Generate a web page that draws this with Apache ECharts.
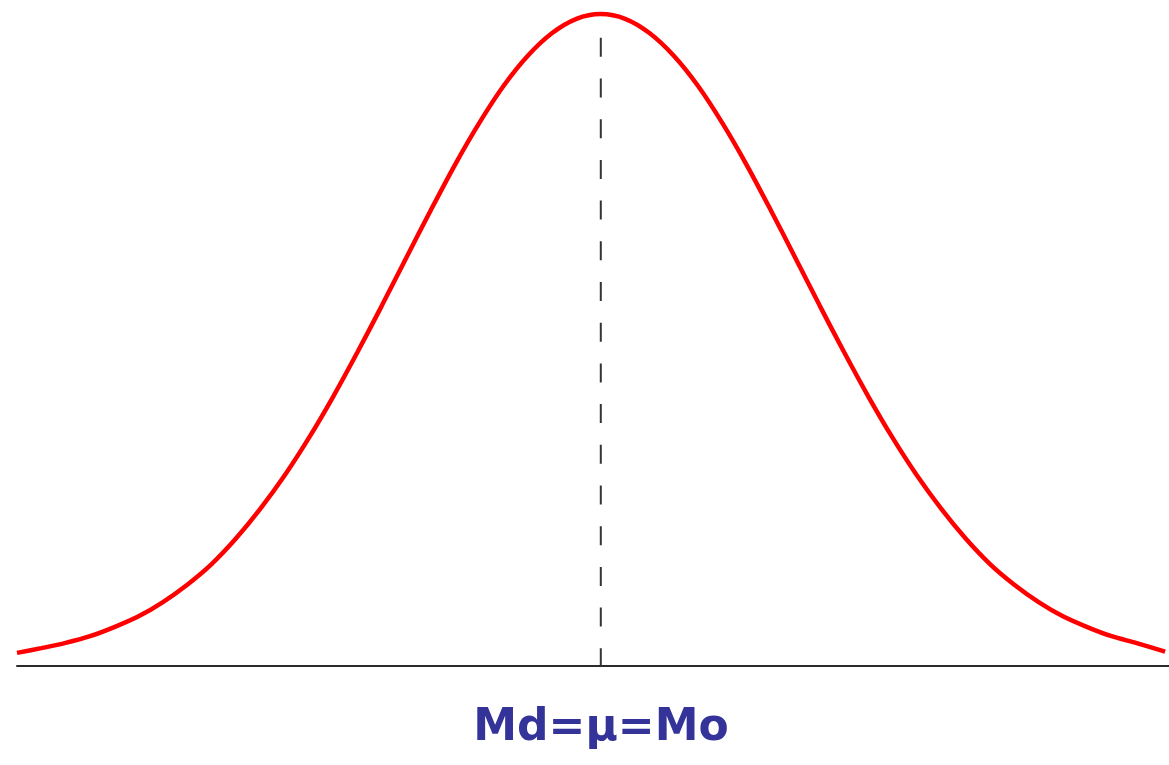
<!DOCTYPE html>
<html>
<head>
<meta charset="utf-8">
<title>Md = mu = Mo</title>
<script src="https://cdn.jsdelivr.net/npm/echarts@6/dist/echarts.min.js"></script>
<style>
  html, body { margin: 0; padding: 0; background: #fff; }
  #chart_div { width: 1169px; height: 765px; }
</style>
</head>
<body>
<div id="chart_div"></div>
<script>
  // z positions (in standard deviations) and curve heights
  var zValues = [-3, -2.875, -2.75, -2.625, -2.5, -2.375, -2.25, -2.125, -2, -1.875, -1.75, -1.625,
                 -1.5, -1.375, -1.25, -1.125, -1, -0.875, -0.75, -0.625, -0.5, -0.375, -0.25, -0.125,
                 0, 0.125, 0.25, 0.375, 0.5, 0.625, 0.75, 0.875, 1, 1.125, 1.25, 1.375,
                 1.5, 1.625, 1.75, 1.875, 2, 2.125, 2.25, 2.375, 2.5, 2.625, 2.75, 2.9];
  var density = [0.0080, 0.0109, 0.0141, 0.0182, 0.0238, 0.0304, 0.0391, 0.0497, 0.0623, 0.0779, 0.0960, 0.1164,
                 0.1394, 0.1647, 0.1919, 0.2203, 0.2494, 0.2783, 0.3062, 0.3318, 0.3545, 0.3730, 0.3869, 0.3956,
                 0.3985, 0.3956, 0.3869, 0.3730, 0.3545, 0.3318, 0.3062, 0.2783, 0.2494, 0.2203, 0.1919, 0.1647,
                 0.1394, 0.1164, 0.0960, 0.0779, 0.0623, 0.0497, 0.0391, 0.0304, 0.0238, 0.0182, 0.0141, 0.0088];

  // the dashed centre line: where it sits and how high it goes
  var centreX = [0, 0];
  var centreY = [0.384, 0];

  var label = 'Md=\u03bc=Mo';

  var curveData = zValues.map(function(z, i) { return [z, density[i]]; });
  var centreData = centreX.map(function(x, i) { return [x, centreY[i]]; });

  var chart = echarts.init(document.getElementById('chart_div'));
  var option = {
    backgroundColor: 'white',
    animation: false,
    grid: {
      left: 17,
      right: 0,
      top: 11.6,
      bottom: 99
    },
    xAxis: {
      type: 'value',
      min: -3,
      max: 2.92,
      axisLine: { show: true, onZero: true, lineStyle: { color: '#2b2b2b', width: 2 } },
      axisTick: { show: false },
      axisLabel: { show: false },
      splitLine: { show: false }
    },
    yAxis: {
      type: 'value',
      min: 0,
      max: 0.4,
      show: false,
      splitLine: { show: false }
    },
    graphic: [
      {
        type: 'text',
        x: 601,
        y: 729,
        style: {
          text: label,
          textAlign: 'center',
          textVerticalAlign: 'middle',
          font: 'bold 44px "DejaVu Sans", sans-serif',
          fill: '#333399'
        }
      }
    ],
    series: [
      {
        name: 'centre',
        type: 'line',
        data: centreData,
        symbol: 'none',
        silent: true,
        lineStyle: { color: '#333', width: 2, type: [19, 21.7] },
        z: 1
      },
      {
        name: 'curve',
        type: 'line',
        data: curveData,
        smooth: 0.3,
        symbol: 'none',
        lineStyle: { color: '#ff0000', width: 4.5 },
        z: 2
      }
    ]
  };
  chart.setOption(option);
</script>
</body>
</html>
